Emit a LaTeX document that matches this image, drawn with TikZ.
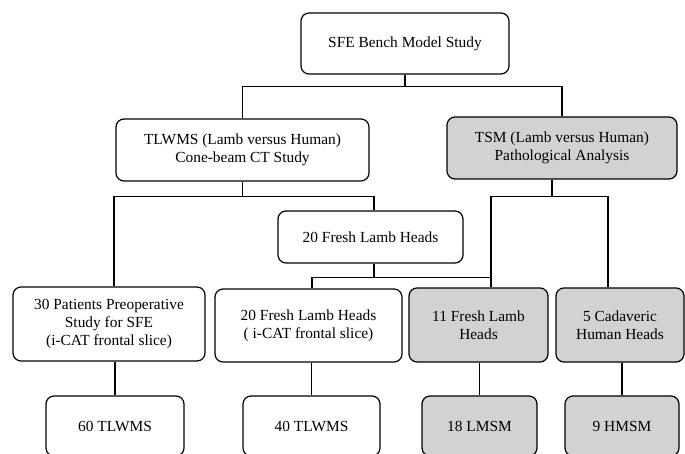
\documentclass[tikz,border=0pt]{standalone}
\usepackage{fontspec}
\setmainfont{Liberation Serif}
\usetikzlibrary{positioning}

\tikzset{
  box/.style={draw, rounded corners=8pt, line width=1.2pt, align=center,
    inner sep=2pt, font=\fontsize{15.4}{18}\selectfont},
  shaded/.style={box, fill=gray!35},
  link/.style={line width=1.7pt}
}

\begin{document}
\begin{tikzpicture}[on grid]
\path[use as bounding box] (0,0) rectangle (685pt,-454pt);
\clip (0,0) rectangle (685pt,-454pt);
\node[box, minimum width=208pt, minimum height=61pt] (top) at (405pt,-43.5pt) {SFE Bench Model Study};
\node[box, minimum width=253pt, minimum height=62pt] (tlwms) [below left=106.5pt and 162.5pt of top] {TLWMS (Lamb versus Human)\\Cone-beam CT Study};
\node[shaded, minimum width=230pt, minimum height=62pt] (tsm) [below right=104.5pt and 157pt of top] {TSM (Lamb versus Human)\\Pathological Analysis};
\node[box, minimum width=185pt, minimum height=52pt] (lamb) [below right=87pt and 128pt of tlwms] {20 Fresh Lamb Heads};
\node[box, minimum width=192pt, minimum height=74pt] (patients) [below left=174pt and 133.5pt of tlwms] {30 Patients Preoperative\\Study for SFE\\(i-CAT frontal slice)};
\node[box, minimum width=187pt, minimum height=73pt] (lambct) [below left=88.5pt and 62pt of lamb] {20 Fresh Lamb Heads\\( i-CAT frontal slice)};
\node[shaded, minimum width=139pt, minimum height=74pt] (freshlamb) [below left=177pt and 83.5pt of tsm] {11 Fresh Lamb\\Heads};
\node[shaded, minimum width=128pt, minimum height=74pt] (cadaver) [below right=177pt and 58pt of tsm] {5 Cadaveric\\Human Heads};
\node[box, minimum width=138pt, minimum height=60pt] (tlwms60) [below right=102pt and 6pt of patients] {60 TLWMS};
\node[box, minimum width=137pt, minimum height=60pt] (tlwms40) [below right=100.5pt and 3pt of lambct] {40 TLWMS};
\node[shaded, minimum width=115pt, minimum height=60pt] (lmsm) [below right=101pt and 1pt of freshlamb] {18 LMSM};
\node[shaded, minimum width=114pt, minimum height=60pt] (hmsm) [below right=101pt and 2pt of cadaver] {9 HMSM};

% first split
\draw[link] (top.south) -- ++(0,-12pt) coordinate (topsplit);
\draw[link] (tlwms.north) |- (topsplit) -| (tsm.north);
% cone-beam branch
\draw[link] (tlwms.south) -- ++(0,-15pt) coordinate (tlwmssplit);
\draw[link] ([xshift=5pt]patients.north) |- (tlwmssplit) -| ([xshift=3.5pt]lamb.north);
% pathology branch
\draw[link] ([xshift=-10pt]tsm.south) -- ++(0,-17pt) coordinate (tsmsplit);
\draw[link] ([xshift=12.5pt]freshlamb.north) coordinate (freshtop) |- (tsmsplit) -| ([xshift=-12pt]cadaver.north);
% lamb heads split
\draw[link] ([xshift=3.5pt]lamb.south) -- ++(0,-14pt) coordinate (lambsplit);
\draw[link] ([xshift=3.5pt]lambct.north) |- (lambsplit) -- (freshtop |- lambsplit);
% last row
\draw[link] (tlwms60.north |- patients.south) -- (tlwms60.north);
\draw[link] (tlwms40.north |- lambct.south) -- (tlwms40.north);
\draw[link] (lmsm.north |- freshlamb.south) -- (lmsm.north);
\draw[link] (hmsm.north |- cadaver.south) -- (hmsm.north);
\end{tikzpicture}
\end{document}
